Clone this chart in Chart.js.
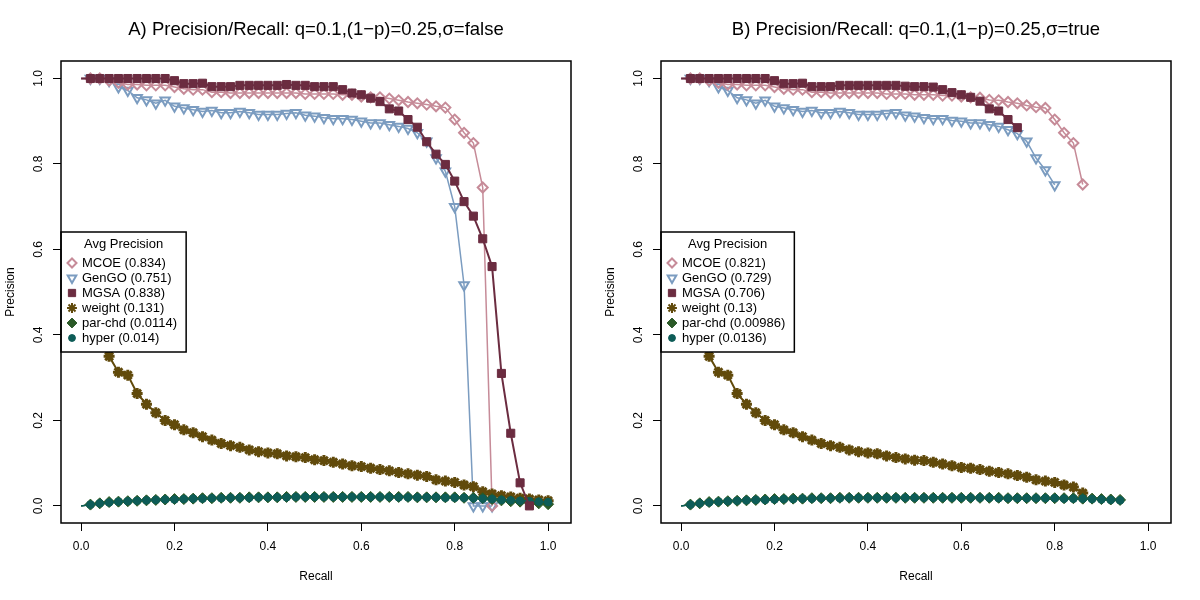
<!DOCTYPE html>
<html>
<head>
<meta charset="utf-8">
<script src="https://cdn.jsdelivr.net/npm/chart.js@4.4.0/dist/chart.umd.min.js"></script>
<style>
  body { margin: 0; background: #fff; width: 1200px; height: 600px; overflow: hidden; display: flex; }
  canvas { display: block; }
</style>
</head>
<body>
<canvas id="chartA" width="600" height="600"></canvas>
<canvas id="chartB" width="600" height="600"></canvas>
<script>
// recall grid shared by every curve (first point has no marker)
const recall = [0, 0.02, 0.04, 0.06, 0.08, 0.10, 0.12, 0.14, 0.16, 0.18, 0.20,
  0.22, 0.24, 0.26, 0.28, 0.30, 0.32, 0.34, 0.36, 0.38, 0.40,
  0.42, 0.44, 0.46, 0.48, 0.50, 0.52, 0.54, 0.56, 0.58, 0.60,
  0.62, 0.64, 0.66, 0.68, 0.70, 0.72, 0.74, 0.76, 0.78, 0.80,
  0.82, 0.84, 0.86, 0.88, 0.90, 0.92, 0.94, 0.96, 0.98, 1.0];

const xTicks = [0, 0.2, 0.4, 0.6, 0.8, 1.0];
const yTicks = [0, 0.2, 0.4, 0.6, 0.8, 1.0];

const methods = ['MCOE', 'GenGO', 'MGSA', 'weight', 'par-chd', 'hyper'];
const avgPrecA = ['0.834', '0.751', '0.838', '0.131', '0.0114', '0.014'];
const avgPrecB = ['0.821', '0.729', '0.706', '0.13', '0.00986', '0.0136'];

const titleA = 'A) Precision/Recall: q=0.1,(1\u2212p)=0.25,\u03c3=false';
const titleB = 'B) Precision/Recall: q=0.1,(1\u2212p)=0.25,\u03c3=true';

// ---- panel A precision values ----
const mcoeA = [1.0, 1.0, 1.0, 0.995, 0.99, 0.986, 0.986, 0.984, 0.984, 0.984, 0.980,
  0.976, 0.974, 0.974, 0.968, 0.968, 0.966, 0.966, 0.966, 0.966, 0.966,
  0.966, 0.966, 0.966, 0.964, 0.964, 0.964, 0.964, 0.962, 0.962, 0.958,
  0.956, 0.956, 0.953, 0.949, 0.945, 0.942, 0.939, 0.935, 0.932, 0.904,
  0.873, 0.849, 0.745, 0.0];
const gengoA = [1.0, 1.0, 1.0, 0.995, 0.980, 0.972, 0.955, 0.950, 0.942, 0.949, 0.935,
  0.931, 0.927, 0.923, 0.925, 0.920, 0.920, 0.923, 0.920, 0.916, 0.916,
  0.916, 0.918, 0.920, 0.914, 0.912, 0.908, 0.906, 0.906, 0.904, 0.900,
  0.896, 0.896, 0.892, 0.888, 0.883, 0.873, 0.853, 0.814, 0.783, 0.700,
  0.517, 0.0, 0.0, 0.0];
const mgsaA = [1.0, 1.0, 1.0, 1.0, 1.0, 1.0, 1.0, 1.0, 1.0, 1.0, 0.995,
  0.988, 0.988, 0.989, 0.981, 0.981, 0.981, 0.984, 0.984, 0.984, 0.984,
  0.984, 0.986, 0.984, 0.984, 0.981, 0.981, 0.981, 0.974, 0.966, 0.962,
  0.954, 0.946, 0.929, 0.924, 0.904, 0.886, 0.852, 0.823, 0.799, 0.760,
  0.712, 0.678, 0.625, 0.560, 0.310, 0.170, 0.054, 0.0];
const weightA = [0.60, 0.52, 0.42, 0.350, 0.313, 0.306, 0.263, 0.238, 0.218, 0.200, 0.190,
  0.178, 0.171, 0.162, 0.154, 0.146, 0.141, 0.137, 0.131, 0.127, 0.124,
  0.122, 0.117, 0.115, 0.113, 0.108, 0.106, 0.102, 0.098, 0.094, 0.092,
  0.088, 0.085, 0.082, 0.078, 0.075, 0.072, 0.069, 0.061, 0.058, 0.055,
  0.049, 0.045, 0.033, 0.028, 0.024, 0.021, 0.018, 0.016, 0.014, 0.012];
const parchdA = [0.0, 0.003, 0.006, 0.009, 0.010, 0.011, 0.012, 0.013, 0.014, 0.015, 0.016,
  0.016, 0.017, 0.018, 0.018, 0.019, 0.019, 0.019, 0.020, 0.020, 0.020,
  0.020, 0.021, 0.021, 0.021, 0.021, 0.021, 0.021, 0.021, 0.021, 0.021,
  0.021, 0.021, 0.021, 0.021, 0.021, 0.020, 0.020, 0.020, 0.020, 0.020,
  0.019, 0.019, 0.018, 0.016, 0.013, 0.011, 0.010, 0.008, 0.006, 0.004];
const hyperA = [0.0, 0.003, 0.006, 0.008, 0.010, 0.011, 0.012, 0.013, 0.014, 0.015, 0.015,
  0.016, 0.017, 0.017, 0.018, 0.018, 0.019, 0.019, 0.019, 0.020, 0.020,
  0.020, 0.020, 0.021, 0.021, 0.021, 0.021, 0.021, 0.021, 0.021, 0.021,
  0.021, 0.021, 0.021, 0.020, 0.020, 0.020, 0.020, 0.020, 0.019, 0.019,
  0.019, 0.018, 0.017, 0.016, 0.014, 0.013, 0.012, 0.011, 0.010, 0.009];

// ---- panel B precision values ----
const mcoeB = [1.0, 1.0, 1.0, 0.995, 0.99, 0.986, 0.986, 0.984, 0.984, 0.984, 0.980,
  0.976, 0.974, 0.974, 0.968, 0.968, 0.966, 0.966, 0.966, 0.966, 0.966,
  0.966, 0.964, 0.964, 0.964, 0.962, 0.962, 0.962, 0.960, 0.960, 0.958,
  0.956, 0.955, 0.950, 0.949, 0.945, 0.942, 0.937, 0.933, 0.931, 0.904,
  0.873, 0.849, 0.752];
const gengoB = [1.0, 1.0, 1.0, 0.995, 0.980, 0.972, 0.955, 0.950, 0.942, 0.949, 0.935,
  0.931, 0.927, 0.923, 0.925, 0.920, 0.920, 0.923, 0.920, 0.916, 0.916,
  0.916, 0.918, 0.920, 0.914, 0.912, 0.908, 0.906, 0.906, 0.902, 0.900,
  0.896, 0.896, 0.892, 0.888, 0.880, 0.871, 0.853, 0.814, 0.786, 0.751];
const mgsaB = [1.0, 1.0, 1.0, 1.0, 1.0, 1.0, 1.0, 1.0, 1.0, 1.0, 0.995,
  0.988, 0.988, 0.989, 0.981, 0.981, 0.981, 0.984, 0.984, 0.984, 0.984,
  0.984, 0.984, 0.984, 0.982, 0.981, 0.981, 0.980, 0.974, 0.967, 0.962,
  0.956, 0.947, 0.929, 0.924, 0.904, 0.885];
const weightB = [0.60, 0.52, 0.42, 0.350, 0.313, 0.306, 0.263, 0.238, 0.218, 0.200, 0.190,
  0.178, 0.171, 0.162, 0.154, 0.146, 0.141, 0.137, 0.131, 0.127, 0.124,
  0.122, 0.117, 0.113, 0.110, 0.107, 0.106, 0.102, 0.098, 0.094, 0.090,
  0.088, 0.085, 0.081, 0.078, 0.075, 0.071, 0.067, 0.061, 0.058, 0.055,
  0.049, 0.044, 0.030];
const parchdB = [0.0, 0.003, 0.006, 0.009, 0.010, 0.011, 0.012, 0.013, 0.014, 0.015, 0.016,
  0.016, 0.017, 0.017, 0.018, 0.018, 0.018, 0.019, 0.019, 0.019, 0.019,
  0.019, 0.019, 0.019, 0.019, 0.019, 0.019, 0.019, 0.019, 0.019, 0.019,
  0.019, 0.019, 0.019, 0.019, 0.018, 0.018, 0.018, 0.018, 0.018, 0.018,
  0.018, 0.018, 0.017, 0.017, 0.016, 0.015, 0.014];
const hyperB = [0.0, 0.003, 0.006, 0.008, 0.010, 0.011, 0.012, 0.013, 0.014, 0.014, 0.015,
  0.016, 0.016, 0.017, 0.017, 0.018, 0.018, 0.018, 0.019, 0.019, 0.019,
  0.019, 0.019, 0.019, 0.019, 0.019, 0.019, 0.019, 0.019, 0.019, 0.019,
  0.019, 0.019, 0.019, 0.018, 0.018, 0.018, 0.018, 0.018, 0.018, 0.018,
  0.017, 0.017, 0.017, 0.016, 0.015, 0.014, 0.013];

const FONT = '"Liberation Sans", Arial, Helvetica, sans-serif';

// look of each method, in legend order
const styles = [
  { color: '#c68b98', pointStyle: 'rectRot', radius: 5, fill: false, lineWidth: 1.5, border: 2, order: 5 },
  { color: '#7b9cc0', pointStyle: 'triangle', rotation: 180, radius: 5.5, fill: false, lineWidth: 1.5, border: 2, order: 6 },
  { color: '#6b2c40', pointStyle: 'rect', radius: 5.7, fill: true, lineWidth: 2, border: 1, order: 1 },
  { color: '#614a0b', pointStyle: 'star', radius: 5.5, fill: false, lineWidth: 2, border: 3, order: 4 },
  { color: '#2b5a27', pointStyle: 'rectRot', radius: 5.5, fill: true, lineWidth: 1.5, border: 1, order: 3 },
  { color: '#0d5c57', pointStyle: 'circle', radius: 3.8, fill: true, lineWidth: 1.5, border: 1, order: 2 }
];

function toPoints(values) {
  return values.map((v, i) => ({ x: recall[i], y: v }));
}

function makeDatasets(seriesList, avgPrec) {
  return seriesList.map((values, k) => {
    const s = styles[k];
    return {
      label: methods[k] + ' (' + avgPrec[k] + ')',
      data: toPoints(values),
      showLine: true,
      borderColor: s.color,
      backgroundColor: s.fill ? s.color : 'rgba(0,0,0,0)',
      borderWidth: s.lineWidth,
      pointStyle: s.pointStyle,
      pointRotation: s.rotation || 0,
      pointRadius: ctx => ctx.dataIndex === 0 ? 0 : s.radius,
      pointBorderWidth: s.border,
      pointBorderColor: s.color,
      pointBackgroundColor: s.fill ? s.color : 'rgba(0,0,0,0)',
      tension: 0,
      order: s.order,
      clip: false
    };
  });
}

function drawMarker(ctx, s, x, y) {
  const bw = Math.min(s.border, 2);
  ctx.save();
  ctx.strokeStyle = s.color;
  ctx.fillStyle = s.fill ? s.color : 'rgba(0,0,0,0)';
  ctx.lineWidth = bw;
  Chart.helpers.drawPoint(ctx, { pointStyle: s.pointStyle, radius: s.radius * 0.9, rotation: s.rotation || 0, borderWidth: bw }, x, y);
  ctx.restore();
}

// R-like frame, titles, rotated y tick labels and inset legend
const rFrame = {
  id: 'rFrame',
  afterDatasetsDraw(chart, args, opts) {
    const ctx = chart.ctx;
    const area = chart.chartArea;
    const yScale = chart.scales.y;
    const cx = (area.left + area.right) / 2;
    const cy = (area.top + area.bottom) / 2;
    ctx.save();
    ctx.fillStyle = '#000';

    // legend box
    ctx.font = '13px ' + FONT;
    const labels = chart.data.datasets.map(d => d.label);
    let maxW = ctx.measureText('Avg Precision').width;
    labels.forEach(l => { maxW = Math.max(maxW, ctx.measureText(l).width); });
    const lx = area.left, ly = 232;
    const lw = 21 + maxW + 9, lh = 120;
    ctx.fillStyle = '#fff';
    ctx.fillRect(lx, ly, lw, lh);
    ctx.strokeStyle = '#000';
    ctx.lineWidth = 1.5;
    ctx.strokeRect(lx, ly, lw, lh);
    ctx.fillStyle = '#000';
    ctx.textAlign = 'center';
    ctx.textBaseline = 'middle';
    ctx.fillText('Avg Precision', lx + lw / 2, ly + 12);
    ctx.textAlign = 'left';
    labels.forEach((l, k) => {
      const ry = ly + 31 + k * 15;
      drawMarker(ctx, styles[k], lx + 11, ry);
      ctx.fillStyle = '#000';
      ctx.fillText(l, lx + 21, ry);
    });

    // plot frame
    ctx.strokeStyle = '#000';
    ctx.lineWidth = 1.5;
    ctx.strokeRect(area.left, area.top, area.right - area.left, area.bottom - area.top);

    // title
    ctx.font = '18.5px ' + FONT;
    ctx.textAlign = 'center';
    ctx.textBaseline = 'middle';
    ctx.fillText(opts.title, cx, 30);

    // axis titles
    ctx.font = '12px ' + FONT;
    ctx.fillText('Recall', cx, 577);
    ctx.save();
    ctx.translate(11, cy);
    ctx.rotate(-Math.PI / 2);
    ctx.fillText('Precision', 0, 0);
    ctx.restore();

    // y tick labels, rotated like R's default
    yTicks.forEach(v => {
      const py = yScale.getPixelForValue(v);
      ctx.save();
      ctx.translate(39, py);
      ctx.rotate(-Math.PI / 2);
      ctx.fillText(v.toFixed(1), 0, 0);
      ctx.restore();
    });
    ctx.restore();
  }
};

function makeChart(id, seriesList, avgPrec, title) {
  return new Chart(document.getElementById(id), {
    type: 'scatter',
    data: { datasets: makeDatasets(seriesList, avgPrec) },
    options: {
      responsive: false,
      animation: false,
      events: [],
      layout: { padding: { top: 61, right: 29, left: 0, bottom: 0 } },
      plugins: {
        legend: { display: false },
        title: { display: false },
        tooltip: { enabled: false },
        rFrame: { title: title }
      },
      scales: {
        x: {
          type: 'linear',
          min: -0.043,
          max: 1.049,
          afterBuildTicks: s => { s.ticks = xTicks.map(v => ({ value: v })); },
          afterFit: s => { s.height = 77; },
          border: { display: false },
          grid: { drawOnChartArea: false, drawTicks: true, tickLength: 8, color: '#000', lineWidth: 1 },
          ticks: {
            color: '#000',
            font: { family: FONT, size: 12 },
            padding: 8,
            maxRotation: 0,
            callback: v => Number(v).toFixed(1)
          }
        },
        y: {
          type: 'linear',
          min: -0.04,
          max: 1.041,
          afterBuildTicks: s => { s.ticks = yTicks.map(v => ({ value: v })); },
          afterFit: s => { s.width = 61; },
          border: { display: false },
          grid: { drawOnChartArea: false, drawTicks: true, tickLength: 8, color: '#000', lineWidth: 1 },
          ticks: { display: false }
        }
      }
    },
    plugins: [rFrame]
  });
}

makeChart('chartA', [mcoeA, gengoA, mgsaA, weightA, parchdA, hyperA], avgPrecA, titleA);
makeChart('chartB', [mcoeB, gengoB, mgsaB, weightB, parchdB, hyperB], avgPrecB, titleB);
</script>
</body>
</html>
